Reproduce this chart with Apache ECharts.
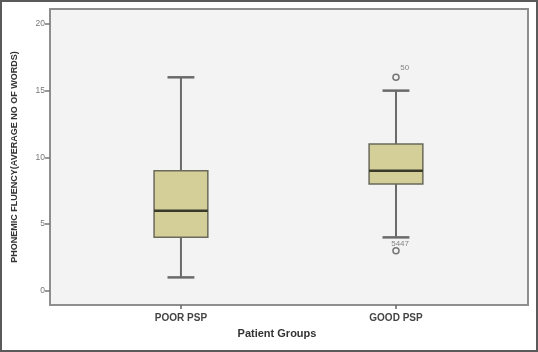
<!DOCTYPE html>
<html>
<head>
<meta charset="utf-8">
<script src="https://cdn.jsdelivr.net/npm/echarts@6/dist/echarts.min.js"></script>
<style>
  html, body { margin: 0; padding: 0; background: #fff; }
  #wrap { position: relative; width: 538px; height: 352px; }
  #mainChart { width: 538px; height: 352px; }
  #frame { position: absolute; left: 0; top: 0; width: 538px; height: 352px;
           box-sizing: border-box; border: 2px solid #5a5a5a; pointer-events: none; }
</style>
</head>
<body>
<div id="wrap">
  <div id="mainChart"></div>
  <div id="frame"></div>
</div>
<script>
// box plot: phonemic fluency by patient group
var groups = ['POOR PSP', 'GOOD PSP'];
var lowWhisker = [1, 4];
var q1 = [4, 8];
var median = [6, 9];
var q3 = [9, 11];
var highWhisker = [16, 15];

// outliers (group index, value, case label)
var outlierGroup = [1, 1];
var outlierValue = [16, 3];
var outlierLabel = ['50', '5447'];

var yTicks = [0, 5, 10, 15, 20];

var boxData = groups.map(function (g, i) {
    return [i, lowWhisker[i], q1[i], median[i], q3[i], highWhisker[i]];
});
// label offset per outlier (px)
var labelPos = [[8, -10], [-1, -7]];
var outlierData = outlierValue.map(function (v, i) {
    return { value: [outlierGroup[i], v, outlierLabel[i]], label: { position: labelPos[i] } };
});

var BOX_W = 0.25;

function renderBox(params, api) {
    var x = api.value(0);
    var w = api.size([BOX_W, 0])[0];
    var pLow = api.coord([x, api.value(1)]);
    var pQ1 = api.coord([x, api.value(2)]);
    var pMed = api.coord([x, api.value(3)]);
    var pQ3 = api.coord([x, api.value(4)]);
    var pHigh = api.coord([x, api.value(5)]);
    var cx = pQ1[0];
    var whisker = { stroke: '#6a6a6a', lineWidth: 2 };
    return {
        type: 'group',
        children: [
            { type: 'line', shape: { x1: cx, y1: pHigh[1], x2: cx, y2: pQ3[1] }, style: whisker },
            { type: 'line', shape: { x1: cx, y1: pLow[1], x2: cx, y2: pQ1[1] }, style: whisker },
            { type: 'line', shape: { x1: cx - w / 4, y1: pHigh[1], x2: cx + w / 4, y2: pHigh[1] }, style: { stroke: '#6a6a6a', lineWidth: 2.5 } },
            { type: 'line', shape: { x1: cx - w / 4, y1: pLow[1], x2: cx + w / 4, y2: pLow[1] }, style: { stroke: '#6a6a6a', lineWidth: 2.5 } },
            { type: 'rect', shape: { x: cx - w / 2, y: pQ3[1], width: w, height: pQ1[1] - pQ3[1] },
              style: { fill: '#d4cf98', stroke: '#6a6a5a', lineWidth: 1.5 } },
            { type: 'line', shape: { x1: cx - w / 2, y1: pMed[1], x2: cx + w / 2, y2: pMed[1] }, style: { stroke: '#3a3a2a', lineWidth: 2.5 } }
        ]
    };
}

var myChart = echarts.init(document.getElementById('mainChart'));
myChart.setOption({
    animation: false,
    grid: {
        left: 50, right: 10, top: 9, bottom: 47,
        show: true,
        backgroundColor: '#f3f3f3',
        borderColor: '#8e8e8e',
        borderWidth: 2
    },
    xAxis: {
        type: 'value',
        min: -0.609,
        max: 1.614,
        name: 'Patient Groups',
        nameLocation: 'middle',
        nameGap: 23,
        nameTextStyle: { fontFamily: 'Liberation Sans', fontWeight: 'bold', fontSize: 11, color: '#333', padding: [0, 24, 0, 0] },
        axisLine: { show: false, onZero: false },
        splitLine: { show: false },
        axisTick: { show: true, length: 4, customValues: [0, 1], lineStyle: { color: '#666', width: 1.5 } },
        axisLabel: {
            customValues: [0, 1],
            margin: 8,
            fontFamily: 'Liberation Sans', fontWeight: 'bold', fontSize: 10, color: '#444',
            formatter: function (v) { return groups[Math.round(v)]; }
        }
    },
    yAxis: {
        type: 'value',
        min: -1.07,
        max: 21.12,
        name: 'PHONEMIC FLUENCY(AVERAGE NO OF WORDS)',
        nameLocation: 'middle',
        nameGap: 31,
        nameTextStyle: { fontFamily: 'Liberation Sans', fontWeight: 'bold', fontSize: 9, color: '#333' },
        axisLine: { show: false, onZero: false },
        splitLine: { show: false },
        axisTick: { show: true, length: 5, customValues: yTicks, lineStyle: { color: '#777', width: 1.5 } },
        axisLabel: { customValues: yTicks, margin: 5, fontFamily: 'Liberation Sans', fontSize: 8.5, color: '#777' }
    },
    series: [{
        type: 'custom',
        renderItem: renderBox,
        encode: { x: 0, y: [1, 2, 3, 4, 5] },
        data: boxData,
        z: 3
    }, {
        type: 'scatter',
        symbol: 'circle',
        symbolSize: 6,
        itemStyle: { color: 'transparent', borderColor: '#555', borderWidth: 1.5 },
        label: {
            show: true,
            formatter: function (p) { return p.value[2]; },
            fontFamily: 'Liberation Sans', fontSize: 8, color: '#666'
        },
        data: outlierData,
        z: 4
    }]
});
</script>
</body>
</html>
